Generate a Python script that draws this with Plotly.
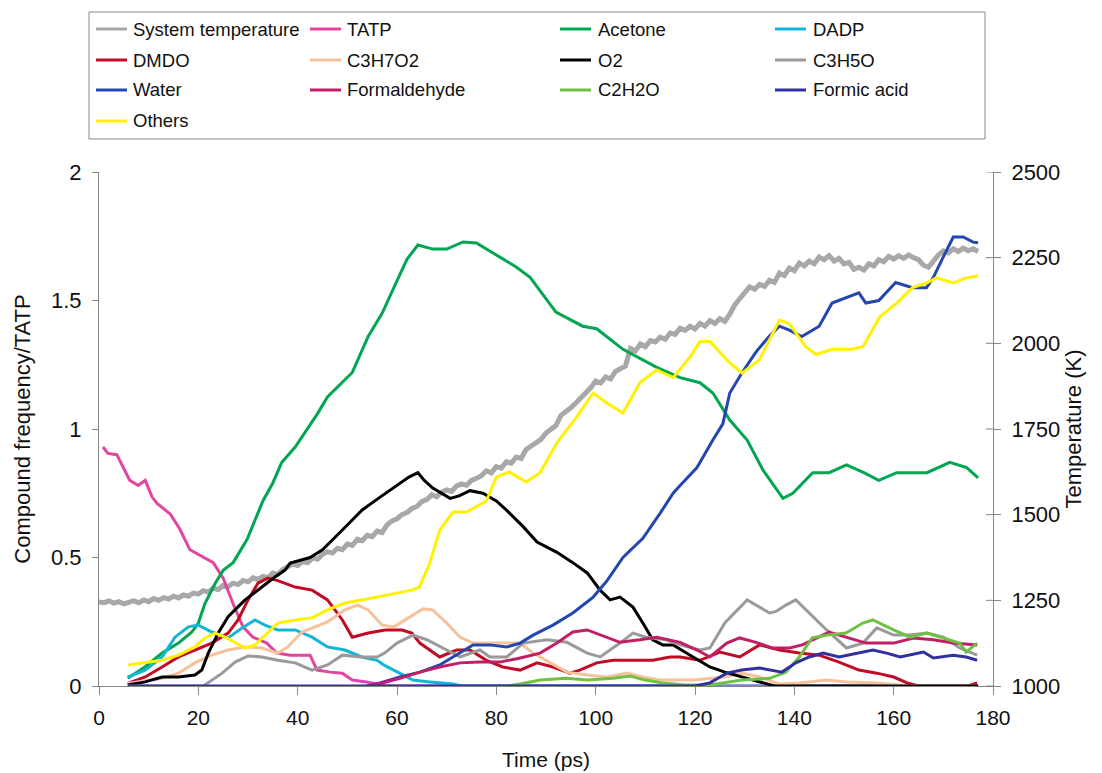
import plotly.graph_objects as go

# ---- series data -------------------------------------------------------
time_temp = list(range(178))
temperature_k = [
    1245, 1243, 1248, 1242, 1246, 1240, 1244, 1249, 1243, 1251,
    1246, 1255, 1250, 1258, 1254, 1262, 1257, 1266, 1262, 1271,
    1268, 1278, 1274, 1286, 1281, 1294, 1290, 1300, 1296, 1308,
    1304, 1316, 1311, 1320, 1316, 1330, 1326, 1340, 1348, 1356,
    1352, 1364, 1360, 1374, 1370, 1384, 1392, 1388, 1402, 1398,
    1414, 1410, 1428, 1424, 1440, 1436, 1452, 1448, 1470, 1482,
    1488, 1500, 1506, 1518, 1524, 1538, 1544, 1558, 1552, 1566,
    1572, 1568, 1584, 1590, 1586, 1600, 1606, 1614, 1628, 1622,
    1640, 1636, 1654, 1650, 1668, 1664, 1690, 1700, 1712, 1720,
    1738, 1748, 1760, 1790, 1800, 1812, 1826, 1840, 1852, 1870,
    1890, 1884, 1902, 1896, 1918, 1928, 1934, 1985, 1978, 1998,
    1990, 2008, 2004, 2018, 2012, 2030, 2026, 2044, 2038, 2050,
    2042, 2058, 2050, 2066, 2058, 2072, 2064, 2085, 2112, 2130,
    2150, 2165, 2158, 2172, 2166, 2184, 2178, 2205, 2198, 2220,
    2212, 2234, 2226, 2240, 2232, 2252, 2244, 2256, 2240, 2248,
    2232, 2236, 2216, 2222, 2214, 2232, 2226, 2244, 2238, 2254,
    2246, 2256, 2248, 2258, 2250, 2244, 2228, 2222, 2240, 2258,
    2270, 2264, 2276, 2268, 2278, 2270, 2276, 2268,
]

tatp_t = [0.8, 1.8, 3.6, 5.2, 6.2, 7.9, 9.3, 10.7, 11.7, 14.3, 16.3, 18.3, 21.0, 23.0,
          25.0, 27.0, 29.0, 31.0, 33.8, 35.8, 38.5, 40.5, 42.5, 43.9, 46.5, 49.0, 51.0,
          53.8, 56.0, 58.0, 177.0]
tatp_v = [0.93, 0.905, 0.90, 0.84, 0.80, 0.78, 0.80, 0.735, 0.71, 0.67, 0.61, 0.53, 0.50,
          0.48, 0.42, 0.32, 0.23, 0.19, 0.167, 0.128, 0.12, 0.12, 0.12, 0.062, 0.054, 0.05,
          0.023, 0.016, 0.008, 0.0, 0.0]

acetone_t = [5.8, 9.3, 12.7, 16.0, 18.7, 20.0, 21.3, 23.4, 25.0, 27.0, 29.8, 33.0, 35.0,
             36.8, 39.5, 42.0, 44.0, 46.0, 49.0, 51.0, 54.2, 57.0, 59.6, 62.0, 64.2, 67.2,
             70.0, 73.3, 76.0, 80.7, 84.0, 86.8, 89.5, 92.0, 97.4, 100.2, 105.5, 112.3,
             117.0, 121.0, 123.6, 127.0, 130.5, 133.7, 137.7, 139.7, 143.7, 147.0, 150.5,
             154.0, 157.0, 160.6, 166.7, 171.3, 174.7, 177.0]
acetone_v = [0.03, 0.075, 0.128, 0.167, 0.21, 0.245, 0.32, 0.40, 0.45, 0.48, 0.57, 0.72,
             0.79, 0.87, 0.93, 1.0, 1.06, 1.125, 1.18, 1.22, 1.36, 1.45, 1.56, 1.66, 1.716,
             1.70, 1.70, 1.728, 1.724, 1.67, 1.63, 1.59, 1.52, 1.455, 1.40, 1.39, 1.31, 1.24,
             1.20, 1.18, 1.14, 1.035, 0.957, 0.84, 0.73, 0.75, 0.83, 0.83, 0.86, 0.83, 0.80,
             0.83, 0.83, 0.87, 0.85, 0.81]

dadp_t = [5.8, 9.3, 12.7, 15.3, 18.0, 20.0, 22.7, 26.0, 28.8, 31.4, 33.4, 36.0, 39.5, 42.9,
          46.0, 49.5, 52.9, 56.0, 57.5, 60.0, 63.2, 66.6, 71.3, 73.0, 177.0]
dadp_v = [0.035, 0.062, 0.113, 0.19, 0.23, 0.237, 0.21, 0.187, 0.226, 0.257, 0.237, 0.218,
          0.218, 0.19, 0.152, 0.14, 0.113, 0.10, 0.08, 0.054, 0.023, 0.016, 0.008, 0.0, 0.0]

dmdo_t = [5.8, 9.3, 12.7, 16.0, 19.3, 22.7, 26.0, 28.0, 30.0, 32.0, 34.0, 36.0, 39.5, 42.9,
          46.0, 49.0, 51.0, 54.2, 57.6, 61.0, 63.0, 64.6, 68.6, 72.0, 74.7, 78.0, 81.3,
          84.8, 88.2, 91.4, 94.8, 96.8, 100.2, 103.5, 107.5, 111.5, 115.0, 117.0, 121.0,
          125.0, 129.0, 133.0, 137.0, 141.0, 145.0, 149.0, 153.0, 156.6, 160.0, 162.7,
          165.0, 175.0, 176.8]
dmdo_v = [0.01, 0.035, 0.074, 0.113, 0.14, 0.167, 0.206, 0.257, 0.335, 0.40, 0.42, 0.41,
          0.385, 0.373, 0.335, 0.257, 0.19, 0.206, 0.218, 0.218, 0.206, 0.167, 0.113, 0.14,
          0.14, 0.10, 0.074, 0.062, 0.09, 0.074, 0.05, 0.062, 0.09, 0.10, 0.10, 0.10, 0.113,
          0.113, 0.10, 0.132, 0.113, 0.16, 0.14, 0.128, 0.12, 0.093, 0.062, 0.05, 0.035,
          0.012, 0.0, 0.0, 0.012]

c3h7o2_t = [5.8, 12.7, 16.0, 19.3, 22.7, 26.0, 29.4, 32.8, 36.0, 38.0, 40.9, 43.5, 46.0,
            49.5, 52.1, 54.2, 57.0, 59.4, 62.6, 65.2, 67.2, 70.0, 72.7, 75.3, 78.7, 82.1,
            84.8, 87.4, 90.8, 94.2, 98.3, 102.3, 106.3, 109.5, 113.0, 119.6, 126.0, 129.4,
            133.0, 137.0, 141.0, 146.5, 150.5, 156.6, 163.0, 177.0]
c3h7o2_v = [0.01, 0.03, 0.05, 0.09, 0.12, 0.14, 0.152, 0.148, 0.128, 0.152, 0.21, 0.23,
            0.249, 0.296, 0.315, 0.296, 0.237, 0.23, 0.27, 0.30, 0.296, 0.245, 0.19, 0.167,
            0.167, 0.167, 0.167, 0.128, 0.09, 0.054, 0.043, 0.035, 0.05, 0.035, 0.023,
            0.023, 0.035, 0.05, 0.035, 0.008, 0.012, 0.023, 0.016, 0.012, 0.0, 0.0]

o2_t = [5.8, 9.3, 12.7, 16.0, 19.3, 20.7, 22.0, 24.0, 26.0, 29.4, 32.8, 35.4, 37.4, 38.5,
        42.5, 45.0, 49.0, 53.0, 56.6, 58.6, 62.4, 64.2, 65.5, 67.2, 70.7, 72.5, 74.7, 77.3,
        80.0, 82.0, 85.4, 88.2, 92.2, 95.4, 98.3, 100.9, 102.9, 104.9, 107.5, 109.5, 111.5,
        113.5, 115.6, 119.6, 123.0, 126.0, 130.5, 134.5, 136.0, 177.0]
o2_v = [0.004, 0.016, 0.035, 0.035, 0.043, 0.062, 0.128, 0.206, 0.27, 0.335, 0.385, 0.424,
        0.45, 0.478, 0.50, 0.53, 0.607, 0.685, 0.735, 0.763, 0.813, 0.83, 0.80, 0.77, 0.73,
        0.74, 0.76, 0.75, 0.72, 0.685, 0.62, 0.56, 0.52, 0.48, 0.44, 0.373, 0.335, 0.346,
        0.307, 0.245, 0.18, 0.16, 0.16, 0.113, 0.074, 0.054, 0.03, 0.008, 0.0, 0.0]

c3h5o_t = [5.8, 21.0, 24.8, 27.4, 30.0, 32.8, 36.0, 39.5, 42.9, 46.0, 49.0, 52.9, 56.0, 57.5,
           60.0, 63.2, 66.0, 70.0, 72.7, 76.7, 78.7, 82.1, 85.4, 90.2, 94.2, 98.3, 100.9,
           104.9, 107.5, 110.1, 114.2, 117.0, 121.0, 123.0, 126.0, 130.5, 133.0, 135.0,
           136.3, 138.3, 140.3, 143.0, 146.5, 150.5, 153.8, 156.6, 160.0, 163.3, 166.7,
           170.0, 173.3, 176.8]
c3h5o_v = [0.0, 0.0, 0.05, 0.093, 0.117, 0.113, 0.10, 0.09, 0.062, 0.082, 0.12, 0.113, 0.113,
           0.128, 0.167, 0.198, 0.18, 0.14, 0.113, 0.14, 0.113, 0.113, 0.167, 0.18, 0.17,
           0.128, 0.113, 0.167, 0.206, 0.19, 0.18, 0.16, 0.14, 0.148, 0.245, 0.335, 0.307,
           0.284, 0.29, 0.315, 0.335, 0.284, 0.218, 0.148, 0.167, 0.226, 0.198, 0.198,
           0.206, 0.19, 0.148, 0.12]

water_t = [54.0, 56.6, 60.6, 64.6, 68.6, 72.0, 75.3, 78.7, 82.1, 84.8, 87.4, 91.4, 95.4,
           99.5, 102.3, 105.5, 109.5, 113.0, 115.6, 117.0, 120.4, 123.6, 125.6, 127.0,
           129.5, 132.3, 134.9, 137.0, 139.0, 141.5, 145.0, 147.6, 150.4, 153.0, 154.4,
           157.0, 160.4, 163.8, 166.6, 168.0, 170.0, 172.0, 174.0, 176.0, 177.0]
water_v = [0.0, 0.012, 0.035, 0.054, 0.082, 0.12, 0.16, 0.16, 0.152, 0.167, 0.198, 0.237,
           0.284, 0.346, 0.41, 0.50, 0.575, 0.673, 0.75, 0.78, 0.85, 0.957, 1.02, 1.14, 1.22,
           1.30, 1.36, 1.40, 1.385, 1.36, 1.40, 1.49, 1.51, 1.53, 1.49, 1.50, 1.57, 1.55,
           1.55, 1.59, 1.67, 1.747, 1.747, 1.727, 1.725]

formaldehyde_t = [54.0, 56.6, 60.6, 64.6, 68.6, 72.7, 76.7, 80.7, 84.8, 88.8, 92.2, 95.4,
                  98.3, 102.3, 104.9, 108.9, 112.3, 117.0, 120.4, 123.0, 126.4, 129.0,
                  132.3, 135.5, 139.0, 141.6, 145.0, 147.0, 150.4, 154.4, 160.0, 164.0,
                  168.0, 172.0, 176.8]
formaldehyde_v = [0.0, 0.01, 0.03, 0.054, 0.074, 0.09, 0.093, 0.093, 0.109, 0.128, 0.167,
                  0.21, 0.218, 0.19, 0.17, 0.18, 0.19, 0.17, 0.14, 0.113, 0.167, 0.187,
                  0.17, 0.148, 0.148, 0.16, 0.19, 0.21, 0.19, 0.167, 0.167, 0.187, 0.18,
                  0.167, 0.16]

c2h2o_t = [82.0, 84.8, 88.8, 94.2, 98.3, 103.5, 106.9, 110.0, 113.5, 118.0, 123.0, 129.4,
           135.0, 138.3, 141.0, 143.6, 146.5, 150.4, 153.8, 155.8, 160.0, 163.3, 166.7,
           170.0, 173.3, 174.6, 176.8]
c2h2o_v = [0.0, 0.008, 0.023, 0.03, 0.023, 0.03, 0.039, 0.023, 0.012, 0.004, 0.004, 0.023,
           0.03, 0.054, 0.113, 0.187, 0.198, 0.206, 0.245, 0.257, 0.218, 0.19, 0.206,
           0.187, 0.167, 0.132, 0.167]

formic_t = [5.8, 120.0, 123.0, 126.4, 129.4, 133.0, 137.5, 140.3, 143.0, 145.8, 149.0, 153.0,
            155.8, 158.6, 161.3, 166.0, 168.0, 172.0, 174.6, 176.8]
formic_v = [0.0, 0.0, 0.012, 0.05, 0.062, 0.07, 0.054, 0.09, 0.113, 0.128, 0.113, 0.128,
            0.14, 0.128, 0.113, 0.132, 0.109, 0.12, 0.113, 0.10]

others_t = [5.8, 9.3, 12.7, 16.0, 19.3, 21.3, 23.4, 25.4, 27.4, 29.4, 31.4, 34.0, 36.0, 39.5,
            42.9, 46.0, 49.5, 52.9, 56.0, 59.4, 63.0, 64.5, 66.6, 68.6, 71.3, 74.0, 76.7,
            78.0, 80.0, 82.6, 86.0, 88.8, 92.2, 96.2, 99.5, 102.3, 105.5, 108.9, 112.3,
            115.6, 119.0, 121.0, 123.0, 127.0, 129.5, 133.0, 137.0, 139.0, 142.3, 144.4,
            147.6, 151.6, 153.8, 157.2, 160.6, 163.8, 166.6, 168.6, 172.0, 174.6, 177.0]
others_v = [0.082, 0.09, 0.10, 0.12, 0.152, 0.187, 0.206, 0.19, 0.17, 0.148, 0.16, 0.21,
            0.245, 0.257, 0.265, 0.296, 0.323, 0.335, 0.346, 0.36, 0.373, 0.385, 0.478,
            0.607, 0.677, 0.677, 0.704, 0.72, 0.813, 0.833, 0.794, 0.83, 0.946, 1.047, 1.14,
            1.10, 1.062, 1.18, 1.23, 1.20, 1.28, 1.34, 1.34, 1.257, 1.218, 1.27, 1.424, 1.41,
            1.32, 1.29, 1.31, 1.31, 1.32, 1.436, 1.49, 1.55, 1.568, 1.588, 1.568, 1.588,
            1.595]

# name, times, values, colour (legend order = drawing order)
species = [
    ("TATP", tatp_t, tatp_v, "#E2449E"),
    ("Acetone", acetone_t, acetone_v, "#00A650"),
    ("DADP", dadp_t, dadp_v, "#12B4D8"),
    ("DMDO", dmdo_t, dmdo_v, "#C20A24"),
    ("C3H7O2", c3h7o2_t, c3h7o2_v, "#F6C29C"),
    ("O2", o2_t, o2_v, "#000000"),
    ("C3H5O", c3h5o_t, c3h5o_v, "#9A9A9A"),
    ("Water", water_t, water_v, "#2446B0"),
    ("Formaldehyde", formaldehyde_t, formaldehyde_v, "#C21E66"),
    ("C2H2O", c2h2o_t, c2h2o_v, "#70C044"),
    ("Formic acid", formic_t, formic_v, "#30309E"),
    ("Others", others_t, others_v, "#FFF200"),
]
temp_name, temp_color = "System temperature", "#A8A8A8"

x_ticks = [0, 20, 40, 60, 80, 100, 120, 140, 160, 180]
freq_ticks = [0, 0.5, 1, 1.5, 2]
freq_labels = ["0", "0.5", "1", "1.5", "2"]
temp_ticks = [1000, 1250, 1500, 1750, 2000, 2250, 2500]

# ---- figure geometry -----------------------------------------------------
W, H = 1102, 773
ML, MR, MT, MB = 99, 109, 172, 87
PW, PH = W - ML - MR, H - MT - MB
FONT = "Liberation Sans, Arial, sans-serif"
AXIS_GREY = "#868686"


def paper_x(px):
    return (px - ML) / PW


def paper_y(py):
    return (H - MB - py) / PH


fig = go.Figure()

# temperature on the primary (right-hand) axis so it sits beneath the species
fig.add_trace(go.Scatter(
    x=time_temp, y=temperature_k, name=temp_name, mode="lines",
    line=dict(color=temp_color, width=5), yaxis="y", showlegend=False,
))
for name, t, v, col in species:
    fig.add_trace(go.Scatter(
        x=t, y=v, name=name, mode="lines",
        line=dict(color=col, width=3), yaxis="y2", showlegend=False,
    ))

# ---- legend box ---------------------------------------------------------------
shapes = [dict(type="rect", xref="paper", yref="paper",
               x0=paper_x(89), x1=paper_x(985), y0=paper_y(139), y1=paper_y(12),
               line=dict(color=AXIS_GREY, width=1), fillcolor="white")]
annotations = []
legend_entries = [(temp_name, temp_color)] + [(n, c) for n, _, _, c in species]
col_line_x = [96, 310, 560, 775]
col_text_x = [131, 345, 596, 811]
row_y = [29, 60, 90, 121]
for i, (name, col) in enumerate(legend_entries):
    r, c = divmod(i, 4)
    y = paper_y(row_y[r])
    shapes.append(dict(type="line", xref="paper", yref="paper",
                       x0=paper_x(col_line_x[c]), x1=paper_x(col_line_x[c] + 31),
                       y0=y, y1=y, line=dict(color=col, width=3)))
    annotations.append(dict(xref="paper", yref="paper", x=paper_x(col_text_x[c]), y=y,
                            text=name, showarrow=False, xanchor="left", yanchor="middle",
                            font=dict(family=FONT, size=18.5, color="#111111")))

# inner half of the right axis tick marks (they straddle the axis line)
for tv in temp_ticks:
    shapes.append(dict(type="line", xref="paper", yref="y", x0=1 - 7 / PW, x1=1,
                       y0=tv, y1=tv, line=dict(color=AXIS_GREY, width=1)))

fig.update_layout(
    width=W, height=H,
    margin=dict(l=ML, r=MR, t=MT, b=MB, pad=0, autoexpand=False),
    paper_bgcolor="white", plot_bgcolor="white",
    font=dict(family=FONT, size=21, color="#111111"),
    showlegend=False,
    shapes=shapes, annotations=annotations,
    xaxis=dict(range=[0, 180], tickvals=x_ticks, ticks="outside", ticklen=8,
               tickcolor=AXIS_GREY, showline=True, linecolor=AXIS_GREY, linewidth=1,
               showgrid=False, zeroline=False, layer="below traces", automargin=False,
               tickfont=dict(size=21), ticklabelstandoff=5,
               title=dict(text="Time (ps)", font=dict(size=21), standoff=24)),
    yaxis=dict(range=[1000, 2500], tickvals=temp_ticks, side="right", ticks="outside",
               ticklen=7, tickcolor=AXIS_GREY, showline=True, linecolor=AXIS_GREY,
               showgrid=False, zeroline=False, tickfont=dict(size=22), automargin=False,
               ticklabelstandoff=6,
               title=dict(text="Temperature (K)", font=dict(size=22), standoff=6)),
    yaxis2=dict(range=[0, 2], tickvals=freq_ticks, ticktext=freq_labels, side="left",
                overlaying="y", ticks="outside", ticklen=6, tickcolor=AXIS_GREY,
                showline=True, linecolor=AXIS_GREY, showgrid=False, zeroline=False,
                tickfont=dict(size=22), ticklabelstandoff=6, automargin=False,
                title=dict(text="Compound frequency/TATP", font=dict(size=22),
                           standoff=14)),
)

fig.write_html("out.html")
